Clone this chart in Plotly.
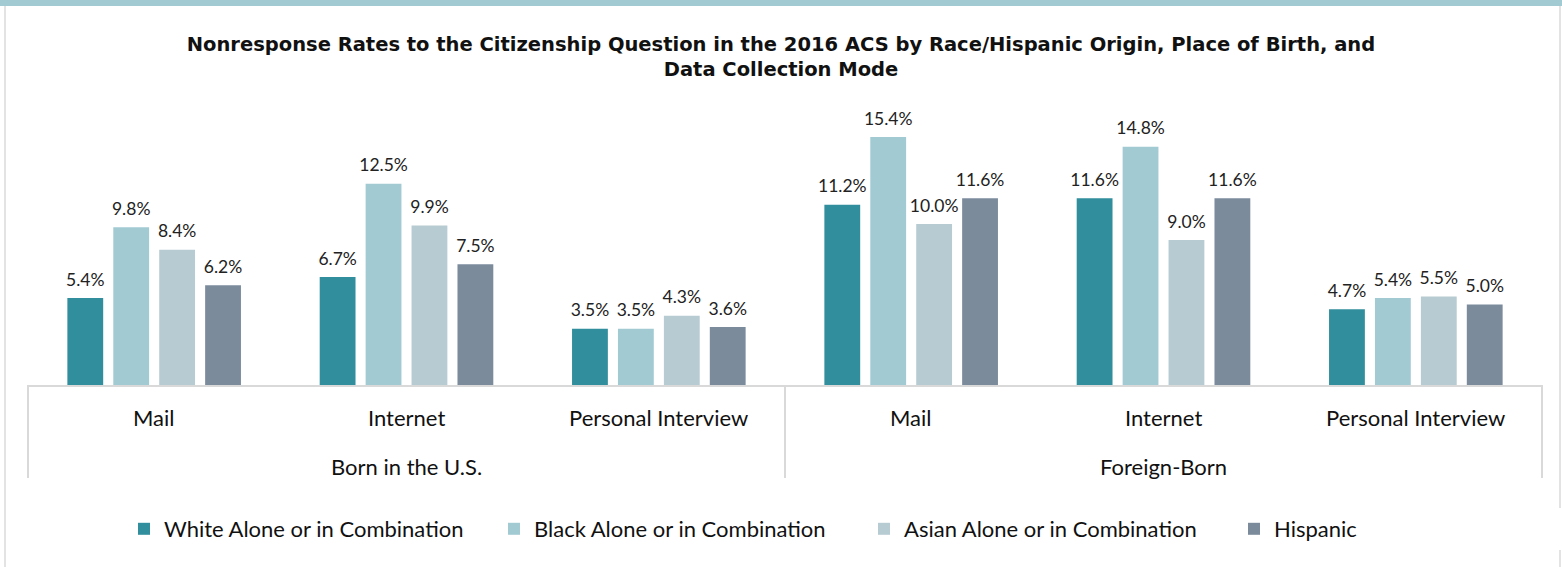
import plotly.graph_objects as go

# ---- data ----
birth_groups = ["Born in the U.S.", "Born in the U.S.", "Born in the U.S.",
                "Foreign-Born", "Foreign-Born", "Foreign-Born"]
modes = ["Mail", "Internet", "Personal Interview",
         "Mail", "Internet", "Personal Interview"]

white = [5.4, 6.7, 3.5, 11.2, 11.6, 4.7]
black = [9.8, 12.5, 3.5, 15.4, 14.8, 5.4]
asian = [8.4, 9.9, 4.3, 10.0, 9.0, 5.5]
hispanic = [6.2, 7.5, 3.6, 11.6, 11.6, 5.0]

series_names = ["White Alone or in Combination", "Black Alone or in Combination",
                "Asian Alone or in Combination", "Hispanic"]
series_values = [white, black, asian, hispanic]
colors = ["#318E9D", "#A2CAD3", "#B7CBD2", "#7B8B9C"]

title_text = ("Nonresponse Rates to the Citizenship Question in the 2016 ACS by Race/Hispanic Origin, Place of Birth, and"
              "<br>Data Collection Mode")

W, H = 1562, 567
ML, MR, MT, MB = 27, 19, 100, 182
pw = W - ML - MR
ph = H - MT - MB

FONT = "Lato, Open Sans, sans-serif"
TXT = "#111111"
GRID = "#D9D9D9"

fig = go.Figure()
for name, vals, col in zip(series_names, series_values, colors):
    fig.add_trace(go.Bar(
        x=[birth_groups, modes], y=vals, name=name,
        marker=dict(color=col, line=dict(width=0)),
        texttemplate="<span style='font-size:17.5px'>%{y:.1f}%</span><br>&nbsp;",
        textposition="outside", constraintext="none",
        textfont=dict(family=FONT, size=6.5, color="#222222"),
        cliponaxis=False,
    ))

fig.update_layout(
    width=W, height=H,
    margin=dict(l=ML, r=MR, t=MT, b=MB, autoexpand=False),
    paper_bgcolor="white", plot_bgcolor="white",
    barmode="group", bargap=0.272, bargroupgap=0.22,
    title=dict(text=title_text, x=(781 / W), xanchor="center", y=1 - 51 / H, yanchor="top",
               font=dict(family="DejaVu Sans, sans-serif", size=19.5, color=TXT, weight="bold")),
    font=dict(family=FONT, color=TXT),
    xaxis=dict(type="multicategory", showline=True, linecolor=GRID, linewidth=2,
               showdividers=False, showticklabels=False, ticks="", showgrid=False),
    yaxis=dict(range=[0, 17.7], visible=False, showgrid=False, zeroline=False),
    legend=dict(orientation="h", x=(864 - ML) / pw, xanchor="center", y=-(529 - 385) / ph, yanchor="middle",
                font=dict(family=FONT, size=22, color=TXT), traceorder="normal",
                entrywidthmode="pixels", entrywidth=325),
    showlegend=True,
)

# category labels (inner row: mode; outer row: place of birth), placed on the x axis scale
for i, m in enumerate(modes):
    fig.add_annotation(x=i, xref="x", y=0, yref="paper", yshift=-32, text=m,
                       showarrow=False, yanchor="middle",
                       font=dict(family=FONT, size=22, color=TXT))
groups_unique = list(dict.fromkeys(birth_groups))
bounds = [-0.5]
for g in groups_unique:
    idx = [i for i, b in enumerate(birth_groups) if b == g]
    fig.add_annotation(x=sum(idx) / len(idx), xref="x", y=0, yref="paper", yshift=-81, text=g,
                       showarrow=False, yanchor="middle",
                       font=dict(family=FONT, size=22, color=TXT))
    bounds.append(max(idx) + 0.5)
# dividers at group boundaries
for b in bounds:
    fig.add_shape(type="line", xref="x", yref="paper", x0=b, x1=b,
                  y0=0, y1=-(478 - 385) / ph, line=dict(color=GRID, width=2))

# frame: teal band on top and light grey border on the sides
fx0 = -ML / pw
fx1 = 1 + MR / pw
fig.add_shape(type="rect", xref="paper", yref="paper",
              x0=fx0, x1=fx1, y0=1 + (MT - 6) / ph, y1=1 + MT / ph,
              fillcolor="#A2CAD3", line=dict(width=0), layer="above")
fig.add_shape(type="line", xref="paper", yref="paper",
              x0=fx0 + 5 / pw, x1=fx0 + 5 / pw, y0=-MB / ph, y1=1 + (MT - 6) / ph,
              line=dict(color="#E3E3E3", width=2))
fig.add_shape(type="line", xref="paper", yref="paper",
              x0=fx1 - 2 / pw, x1=fx1 - 2 / pw, y0=-MB / ph, y1=1 + (MT - 6) / ph,
              line=dict(color="#E3E3E3", width=2))

fig.write_html("out.html", config={"displayModeBar": False},
               post_script="document.body.style.margin='0';document.body.style.padding='0';")
